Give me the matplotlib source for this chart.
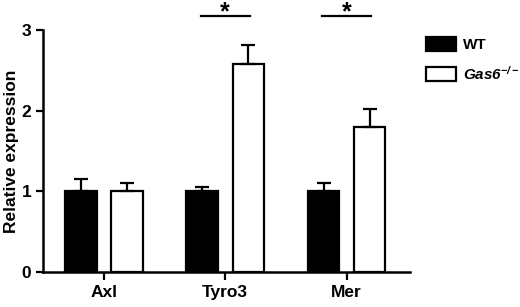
import numpy as np
import matplotlib.pyplot as plt

plt.rcParams['font.family'] = ['Liberation Sans', 'DejaVu Sans']
plt.rcParams['font.weight'] = 'bold'
plt.rcParams['mathtext.fontset'] = 'custom'
plt.rcParams['mathtext.it'] = 'Liberation Sans:italic:bold'
plt.rcParams['mathtext.rm'] = 'Liberation Sans:italic:bold'

# Data
genes = ['Axl', 'Tyro3', 'Mer']
wt_mean = [1.0, 1.0, 1.0]
wt_err = [0.15, 0.05, 0.10]
ko_mean = [1.0, 2.58, 1.80]
ko_err = [0.10, 0.23, 0.22]
sig_genes = [1, 2]

x = np.arange(len(genes))
w = 0.26
off = 0.19

fig = plt.figure(figsize=(5.2, 3.07), dpi=100)
ax = fig.add_axes([0.083, 0.114, 0.705, 0.788])

err_kw = dict(elinewidth=1.6, capthick=1.6, capsize=5, ecolor='black')
ax.bar(x - off, wt_mean, w, color='black', edgecolor='black', linewidth=1.6,
       yerr=[np.zeros(3), wt_err], error_kw=err_kw, label='WT', zorder=2)
ax.bar(x + off, ko_mean, w, color='white', edgecolor='black', linewidth=1.6,
       yerr=[np.zeros(3), ko_err], error_kw=err_kw,
       label=r'$Gas6^{-/-}$', zorder=2)

# significance bars
for g in sig_genes:
    ax.plot([g - 0.2, g + 0.2], [3.17, 3.17], color='black', lw=1.6, clip_on=False)
    ax.text(g, 3.22, '*', ha='center', va='center', fontsize=18,
            fontweight='bold', clip_on=False)

ax.set_xlim(-0.5, 2.52)
ax.set_ylim(0, 3)
ax.set_yticks([0, 1, 2, 3])
ax.set_xticks(x)
ax.set_xticklabels(genes)
ax.set_ylabel('Relative expression', fontsize=12.5, fontweight='bold', labelpad=2)
ax.tick_params(labelsize=12.5, width=1.6, direction='out')
ax.tick_params(axis='x', length=6)
ax.tick_params(axis='y', length=5)
for s in ['top', 'right']:
    ax.spines[s].set_visible(False)
for s in ['left', 'bottom']:
    ax.spines[s].set_linewidth(1.8)

ax.legend(loc='upper left', bbox_to_anchor=(426 / 520, 1 - 37 / 307),
          bbox_transform=fig.transFigure, frameon=False, borderpad=0,
          borderaxespad=0, fontsize=11, handlelength=1.95, handleheight=1.05,
          handletextpad=0.45, labelspacing=0.8)

plt.savefig('out.png', dpi=100)
